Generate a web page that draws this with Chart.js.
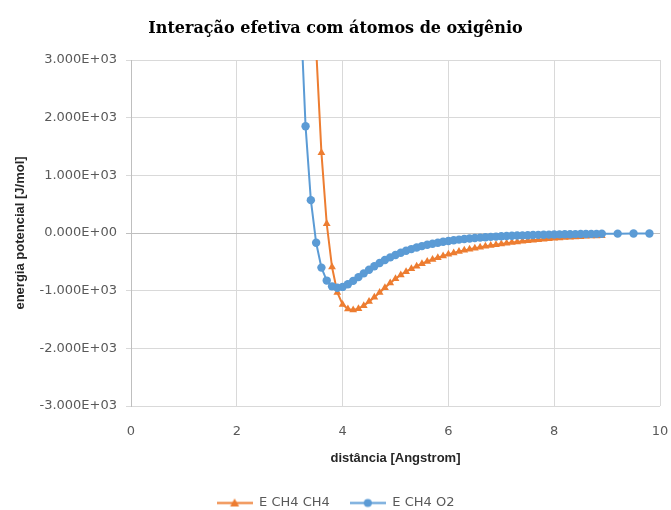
<!DOCTYPE html>
<html><head><meta charset="utf-8">
<script src="https://cdn.jsdelivr.net/npm/chart.js@4"></script>
<style>html,body{margin:0;padding:0;background:#fff}</style>
</head><body>
<canvas id="c" width="671" height="510"></canvas>
<script>
// ---- data ----
const distCH4 = [3.5,3.6,3.7,3.8,3.9,4.0,4.1,4.2,4.3,4.4,4.5,4.6,4.7,4.8,4.9,5.0,5.1,5.2,5.3,5.4,5.5,5.6,5.7,5.8,5.9,6.0,6.1,6.2,6.3,6.4,6.5,6.6,6.7,6.8,6.9,7.0,7.1,7.2,7.3,7.4,7.5,7.6,7.7,7.8,7.9,8.0,8.1,8.2,8.3,8.4,8.5,8.6,8.7,8.8,8.9];
const energyCH4 = [3200,1390,160,-590,-1030,-1240,-1320,-1335,-1312,-1260,-1190,-1112,-1030,-948,-868,-792,-727,-670,-620,-575,-533,-495,-460,-428,-398,-370,-345,-322,-301,-282,-264,-247,-231,-216,-202,-189,-177,-165,-154,-144,-134,-125,-116,-108,-100,-93,-86,-80,-74,-68,-63,-58,-54,-50,-46];
const distO2 = [3.2,3.3,3.4,3.5,3.6,3.7,3.8,3.9,4.0,4.1,4.2,4.3,4.4,4.5,4.6,4.7,4.8,4.9,5.0,5.1,5.2,5.3,5.4,5.5,5.6,5.7,5.8,5.9,6.0,6.1,6.2,6.3,6.4,6.5,6.6,6.7,6.8,6.9,7.0,7.1,7.2,7.3,7.4,7.5,7.6,7.7,7.8,7.9,8.0,8.1,8.2,8.3,8.4,8.5,8.6,8.7,8.8,8.9,9.2,9.5,9.8];
const energyO2 = [3970,1850,570,-170,-600,-825,-925,-950,-935,-890,-830,-765,-700,-637,-577,-520,-469,-423,-381,-343,-309,-279,-251,-227,-205,-186,-168,-153,-139,-126,-115,-105,-96,-88,-80,-73,-67,-62,-57,-52,-48,-44,-41,-38,-35,-32,-30,-28,-26,-24,-22,-21,-19,-18,-17,-16,-15,-14,-11,-9,-8];
const seriesNames = ['E CH4 CH4', 'E CH4 O2'];
const xTicks = [0,2,4,6,8,10];
const yTicks = [-3000,-2000,-1000,0,1000,2000,3000];
const chartTitle = 'Interação efetiva com átomos de oxigênio';
const xTitle = 'distância [Angstrom]';
const yTitle = 'energia potencial [J/mol]';

const ORANGE = '#ED7D31', BLUE = '#5B9BD5';

function sci(v){
  if (v === 0) return '0.000E+00';
  const e = Math.floor(Math.log10(Math.abs(v)) + 1e-9);
  const m = v / Math.pow(10, e);
  return m.toFixed(3) + 'E' + (e < 0 ? '-' : '+') + String(Math.abs(e)).padStart(2, '0');
}
function legendIcon(color, shape){
  const c = document.createElement('canvas');
  c.width = 36; c.height = 11;
  const g = c.getContext('2d');
  g.strokeStyle = color; g.lineWidth = 2;
  g.beginPath(); g.moveTo(0, 5.5); g.lineTo(36, 5.5); g.stroke();
  g.fillStyle = color;
  g.beginPath();
  if (shape === 'triangle') { g.moveTo(18, 1); g.lineTo(22.5, 9); g.lineTo(13.5, 9); g.closePath(); }
  else { g.arc(18, 5.5, 4, 0, Math.PI * 2); }
  g.fill();
  return c;
}
const icons = [legendIcon(ORANGE, 'triangle'), legendIcon(BLUE, 'circle')];

const toPts = (xs, ys) => xs.map((x, i) => ({x: x, y: ys[i]}));

new Chart(document.getElementById('c'), {
  type: 'scatter',
  data: {
    datasets: [
      { label: seriesNames[0], data: toPts(distCH4, energyCH4), showLine: true,
        borderColor: ORANGE, backgroundColor: ORANGE, borderWidth: 2,
        pointStyle: 'triangle', pointRadius: 4.5, pointBorderWidth: 0, order: 1 },
      { label: seriesNames[1], data: toPts(distO2, energyO2), showLine: true,
        borderColor: BLUE, backgroundColor: BLUE, borderWidth: 2,
        pointStyle: 'circle', pointRadius: 4.2, pointBorderWidth: 0, order: 0 }
    ]
  },
  options: {
    responsive: false, animation: false, devicePixelRatio: 1,
    layout: { padding: { top: 0, left: 0, right: 0, bottom: -9.5 } },
    plugins: {
      tooltip: { enabled: false },
      title: { display: true, text: chartTitle, color: '#000',
        font: { family: 'DejaVu Serif', size: 16, weight: 'bold' },
        padding: { top: 19, bottom: 21.8 } },
      legend: { position: 'bottom',
        labels: { usePointStyle: true, pointStyleWidth: 36, padding: 20, color: '#595959',
          font: { family: 'DejaVu Sans', size: 13 },
          sort: (a, b) => a.datasetIndex - b.datasetIndex,
          generateLabels: (chart) => {
            const items = Chart.defaults.plugins.legend.labels.generateLabels(chart);
            items.forEach(it => { it.pointStyle = icons[it.datasetIndex]; });
            return items;
          } } }
    },
    scales: {
      x: { type: 'linear', min: 0, max: 10,
        afterFit: s => { s.height = 70.5; s.paddingRight = 11; s.paddingLeft = 0; },
        afterBuildTicks: s => { s.ticks = xTicks.map(v => ({value: v})); },
        ticks: { color: '#595959', font: { family: 'DejaVu Sans', size: 13 }, padding: 18 },
        grid: { color: '#d9d9d9', drawTicks: false, lineWidth: 1 },
        border: { display: false },
        title: { display: true, text: xTitle, color: '#262626',
          font: { family: 'Liberation Sans', size: 13, weight: 'bold' },
          padding: { top: 4, bottom: 10.7 } } },
      y: { type: 'linear', min: -3000, max: 3000,
        afterFit: s => { s.width = 131; },
        afterBuildTicks: s => { s.ticks = yTicks.map(v => ({value: v})); },
        ticks: { color: '#595959', font: { family: 'DejaVu Sans', size: 13 }, padding: 9,
          callback: v => sci(v) },
        grid: { color: ctx => (ctx.tick && ctx.tick.value === 0) ? '#bfbfbf' : '#d9d9d9',
          tickLength: 5, drawTicks: true, lineWidth: 1 },
        border: { display: true, color: '#bfbfbf' },
        title: { display: true, text: yTitle, color: '#262626',
          font: { family: 'Liberation Sans', size: 13, weight: 'bold' },
          padding: { top: 12.5, bottom: 4 } } }
    }
  }
});
</script>
</body></html>
